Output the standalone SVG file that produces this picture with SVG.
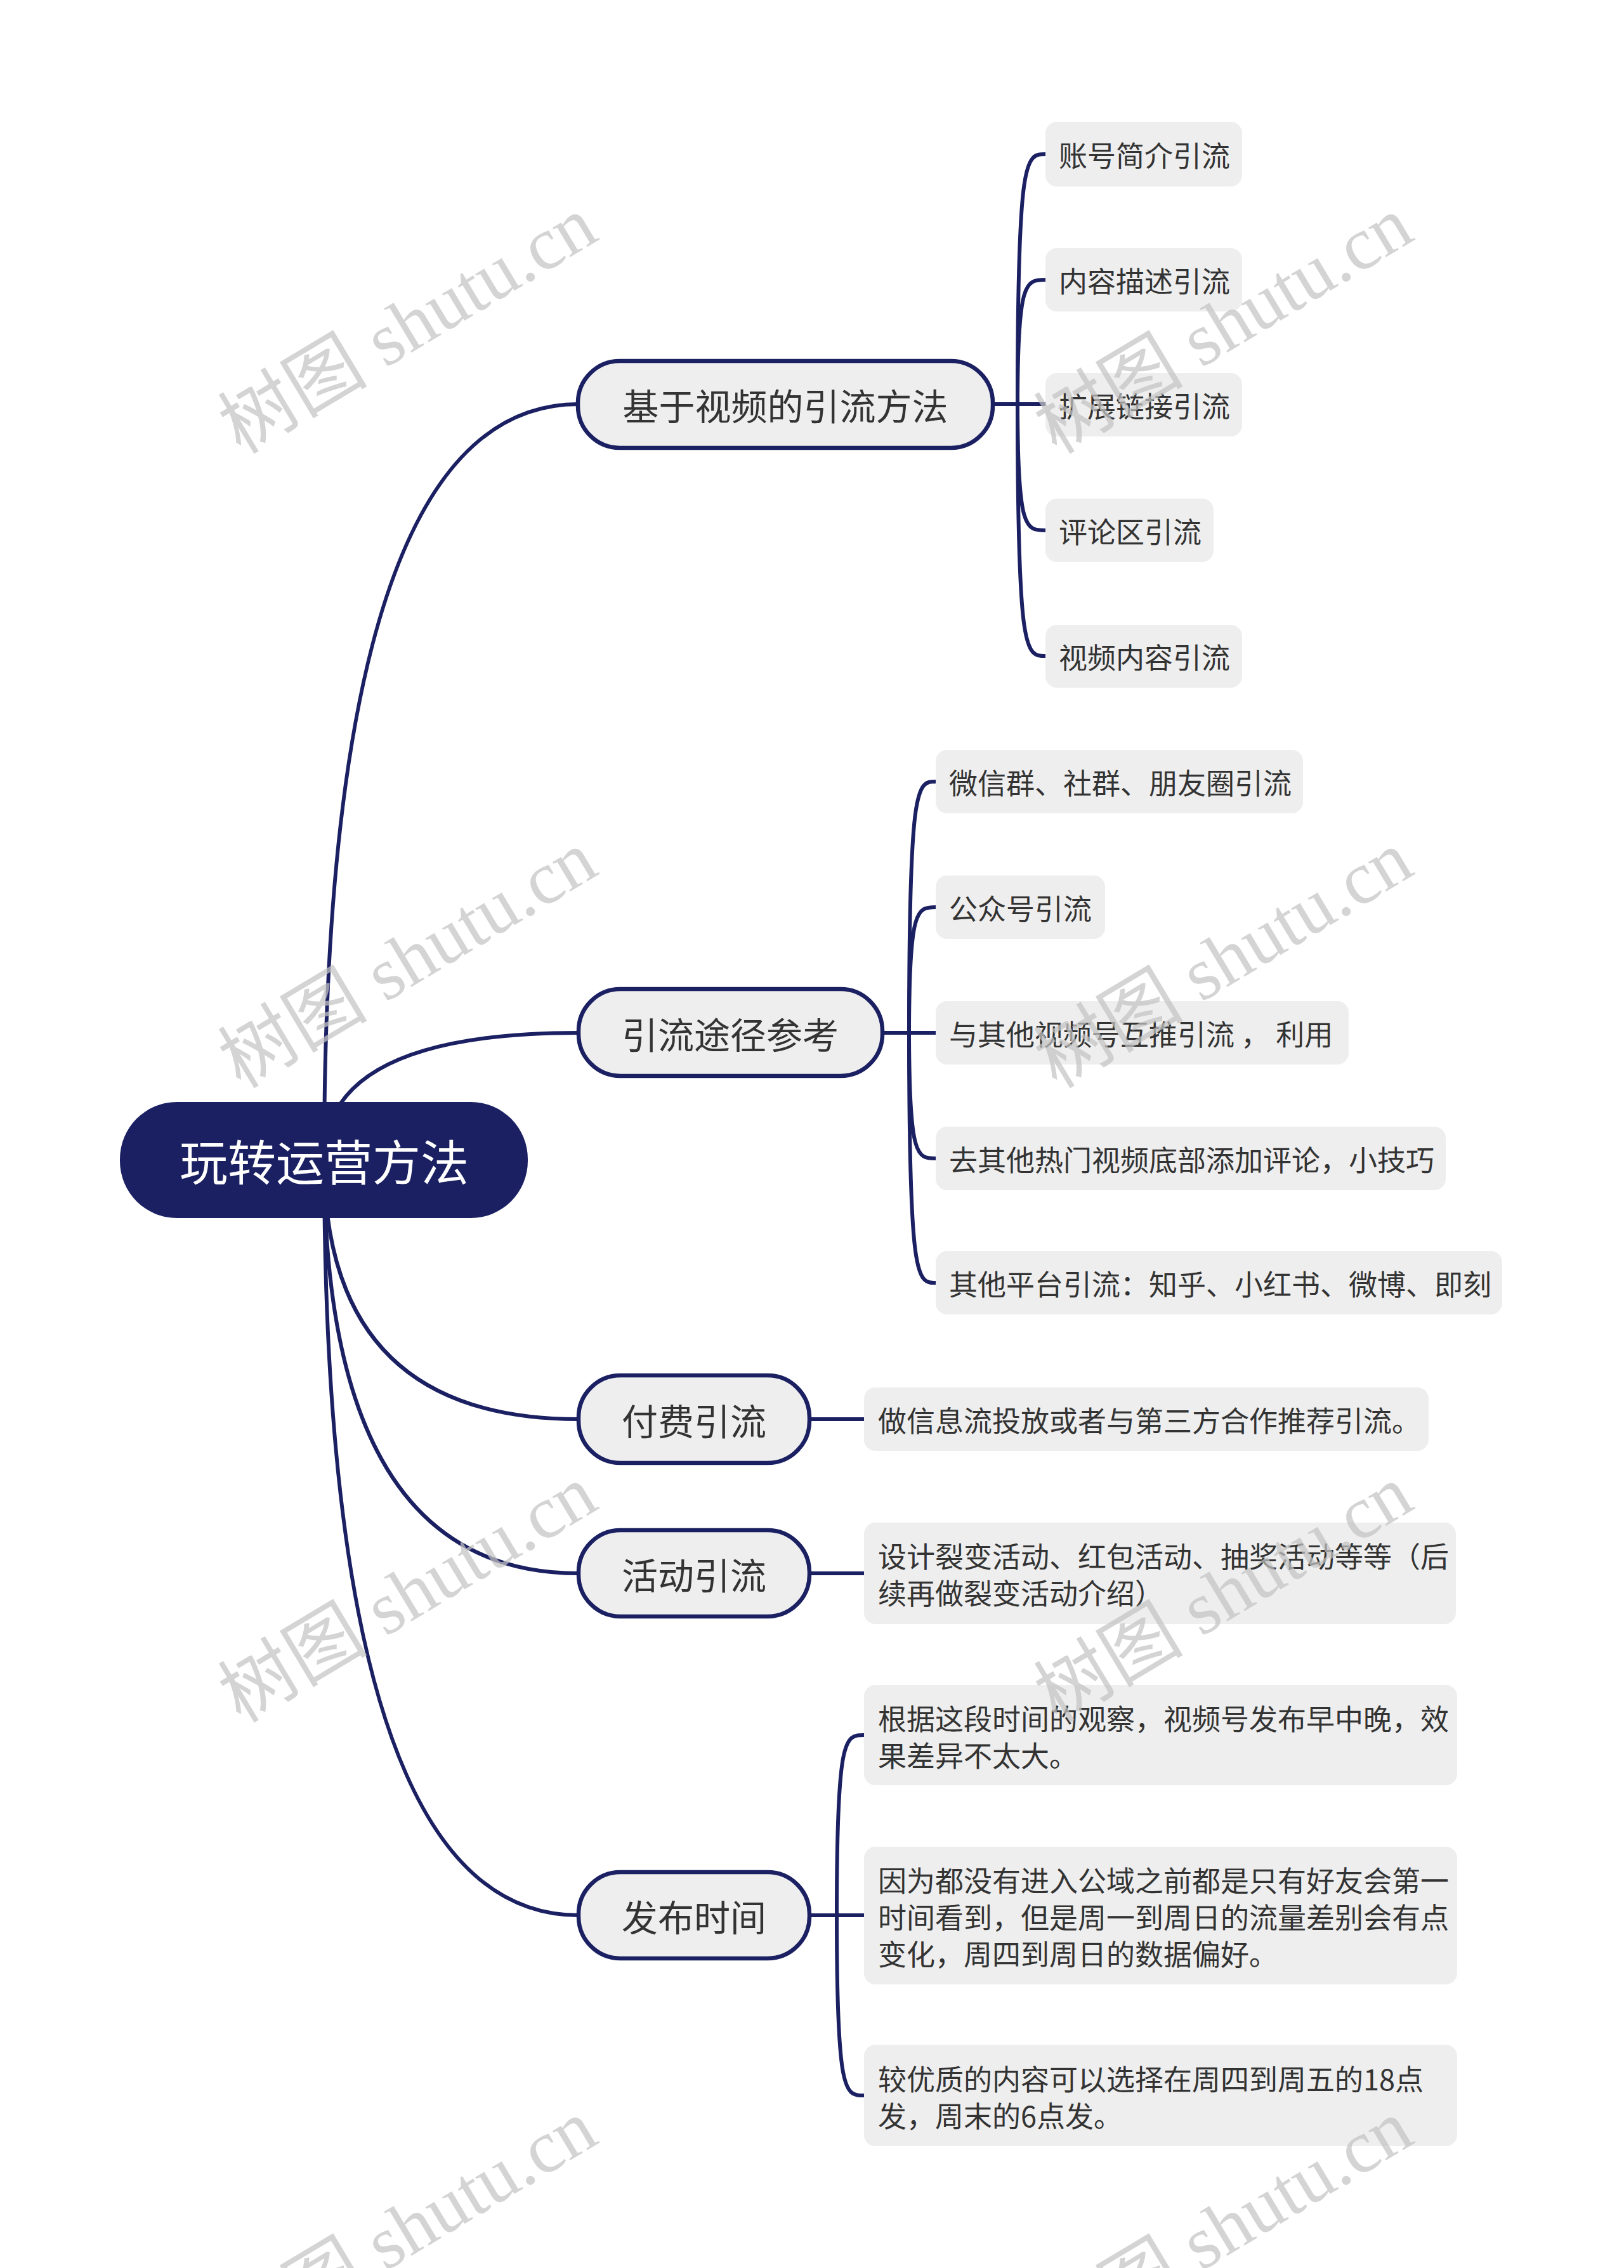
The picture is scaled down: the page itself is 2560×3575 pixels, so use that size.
<svg xmlns="http://www.w3.org/2000/svg" width="2560" height="3575" viewBox="0 0 2560 3575">
<style>
.bg{fill:#ffffff}
.conn{fill:none;stroke:#1b2062;stroke-width:6;stroke-linecap:round}
.root{fill:#1b2062}
.roott{fill:#ffffff;font-family:"Noto Sans CJK SC","Noto Sans",sans-serif;font-size:76px}
.l1{fill:#eeeeee;stroke:#1b2062;stroke-width:6.5}
.l1t{fill:#333333;font-family:"Noto Sans CJK SC","Noto Sans",sans-serif;font-size:57px}
.l2{fill:#eeeeee}
.l2t{fill:#333333;font-family:"Noto Sans CJK SC","Noto Sans",sans-serif;font-size:45px}
.wm{fill:#c4c4c4;opacity:0.72;font-family:"Liberation Serif","Noto Sans CJK SC",serif;font-size:118px}
</style>
<rect class="bg" x="0" y="0" width="2560" height="3575"/>
<g id="connectors">
  <path class="conn" d="M511,1828 Q511,637 912,637"/>
  <path class="conn" d="M511,1828 Q511,1628 912,1628"/>
  <path class="conn" d="M511,1828 Q511,2237 912,2237"/>
  <path class="conn" d="M511,1828 Q511,2480 912,2480"/>
  <path class="conn" d="M511,1828 Q511,3019 912,3019"/>
  <path class="conn" d="M1565,637 H1648"/>
  <path class="conn" d="M1604,637 C1604,243 1617,243 1648,243"/>
  <path class="conn" d="M1604,637 C1604,441 1617,441 1648,441"/>
  <path class="conn" d="M1604,637 C1604,836 1617,836 1648,836"/>
  <path class="conn" d="M1604,637 C1604,1034 1617,1034 1648,1034"/>
  <path class="conn" d="M1391,1628 H1475"/>
  <path class="conn" d="M1433,1628 C1433,1232 1446,1232 1475,1232"/>
  <path class="conn" d="M1433,1628 C1433,1430 1446,1430 1475,1430"/>
  <path class="conn" d="M1433,1628 C1433,1826 1446,1826 1475,1826"/>
  <path class="conn" d="M1433,1628 C1433,2022 1446,2022 1475,2022"/>
  <path class="conn" d="M1276,2237 H1362"/>
  <path class="conn" d="M1276,2480 H1362"/>
  <path class="conn" d="M1276,3019 H1362"/>
  <path class="conn" d="M1319,3019 C1319,2735 1332,2735 1362,2735"/>
  <path class="conn" d="M1319,3019 C1319,3303 1332,3303 1362,3303"/>
</g>
<g id="root">
  <rect class="root" x="189" y="1737" width="643" height="183" rx="90"/>
  <text class="roott" x="511" y="1828" text-anchor="middle" dominant-baseline="central">玩转运营方法</text>
</g>
<g id="n1">
  <rect class="l1" x="911" y="569" width="654" height="137" rx="66"/>
  <text class="l1t" x="1238" y="637" text-anchor="middle" dominant-baseline="central">基于视频的引流方法</text>
</g>
<g id="n1a"><rect class="l2" x="1648" y="192" width="310" height="102" rx="18"/><text class="l2t" x="1669" y="243" dominant-baseline="central">账号简介引流</text></g>
<g id="n1b"><rect class="l2" x="1648" y="391" width="310" height="100" rx="18"/><text class="l2t" x="1669" y="441" dominant-baseline="central">内容描述引流</text></g>
<g id="n1c"><rect class="l2" x="1648" y="588" width="310" height="100" rx="18"/><text class="l2t" x="1669" y="638" dominant-baseline="central">扩展链接引流</text></g>
<g id="n1d"><rect class="l2" x="1648" y="786" width="265" height="100" rx="18"/><text class="l2t" x="1669" y="836" dominant-baseline="central">评论区引流</text></g>
<g id="n1e"><rect class="l2" x="1648" y="985" width="310" height="99" rx="18"/><text class="l2t" x="1669" y="1034" dominant-baseline="central">视频内容引流</text></g>
<g id="n2">
  <rect class="l1" x="912" y="1559" width="479" height="137" rx="66"/>
  <text class="l1t" x="1151" y="1628" text-anchor="middle" dominant-baseline="central">引流途径参考</text>
</g>
<g id="n2a"><rect class="l2" x="1475" y="1182" width="579" height="100" rx="18"/><text class="l2t" x="1496" y="1232" dominant-baseline="central">微信群、社群、朋友圈引流</text></g>
<g id="n2b"><rect class="l2" x="1475" y="1380" width="267" height="100" rx="18"/><text class="l2t" x="1496" y="1430" dominant-baseline="central">公众号引流</text></g>
<g id="n2c"><rect class="l2" x="1475" y="1578" width="651" height="100" rx="18"/><text class="l2t" x="1496" y="1628" dominant-baseline="central">与其他视频号互推引流 ， 利用</text></g>
<g id="n2d"><rect class="l2" x="1475" y="1776" width="804" height="100" rx="18"/><text class="l2t" x="1496" y="1826" dominant-baseline="central">去其他热门视频底部添加评论，小技巧</text></g>
<g id="n2e"><rect class="l2" x="1475" y="1972" width="893" height="100" rx="18"/><text class="l2t" x="1496" y="2022" dominant-baseline="central">其他平台引流：知乎、小红书、微博、即刻</text></g>
<g id="n3">
  <rect class="l1" x="912" y="2168" width="364" height="138" rx="66"/>
  <text class="l1t" x="1094" y="2237" text-anchor="middle" dominant-baseline="central">付费引流</text>
</g>
<g id="n3a"><rect class="l2" x="1362" y="2187" width="890" height="100" rx="18"/><text class="l2t" x="1384" y="2237" dominant-baseline="central">做信息流投放或者与第三方合作推荐引流。</text></g>
<g id="n4">
  <rect class="l1" x="912" y="2412" width="364" height="136" rx="66"/>
  <text class="l1t" x="1094" y="2480" text-anchor="middle" dominant-baseline="central">活动引流</text>
</g>
<g id="n4a"><rect class="l2" x="1362" y="2400" width="933" height="160" rx="18"/>
  <text class="l2t" x="1384" y="2451" dominant-baseline="central">设计裂变活动、红包活动、抽奖活动等等（后</text>
  <text class="l2t" x="1384" y="2509" dominant-baseline="central">续再做裂变活动介绍）</text></g>
<g id="n5">
  <rect class="l1" x="912" y="2951" width="364" height="136" rx="66"/>
  <text class="l1t" x="1094" y="3019" text-anchor="middle" dominant-baseline="central">发布时间</text>
</g>
<g id="n5a"><rect class="l2" x="1362" y="2656" width="935" height="158" rx="18"/>
  <text class="l2t" x="1384" y="2707" dominant-baseline="central">根据这段时间的观察，视频号发布早中晚，效</text>
  <text class="l2t" x="1384" y="2765" dominant-baseline="central">果差异不太大。</text></g>
<g id="n5b"><rect class="l2" x="1362" y="2911" width="935" height="217" rx="18"/>
  <text class="l2t" x="1384" y="2962" dominant-baseline="central">因为都没有进入公域之前都是只有好友会第一</text>
  <text class="l2t" x="1384" y="3020" dominant-baseline="central">时间看到，但是周一到周日的流量差别会有点</text>
  <text class="l2t" x="1384" y="3078" dominant-baseline="central">变化，周四到周日的数据偏好。</text></g>
<g id="n5c"><rect class="l2" x="1362" y="3223" width="935" height="160" rx="18"/>
  <text class="l2t" x="1384" y="3275" dominant-baseline="central">较优质的内容可以选择在周四到周五的18点</text>
  <text class="l2t" x="1384" y="3333" dominant-baseline="central">发，周末的6点发。</text></g>
<g id="watermarks">
  <text class="wm" x="643" y="513" text-anchor="middle" dominant-baseline="central" transform="rotate(-31 643 513)">树图 shutu.cn</text>
  <text class="wm" x="1929" y="513" text-anchor="middle" dominant-baseline="central" transform="rotate(-31 1929 513)">树图 shutu.cn</text>
  <text class="wm" x="643" y="1513" text-anchor="middle" dominant-baseline="central" transform="rotate(-31 643 1513)">树图 shutu.cn</text>
  <text class="wm" x="1929" y="1513" text-anchor="middle" dominant-baseline="central" transform="rotate(-31 1929 1513)">树图 shutu.cn</text>
  <text class="wm" x="643" y="2513" text-anchor="middle" dominant-baseline="central" transform="rotate(-31 643 2513)">树图 shutu.cn</text>
  <text class="wm" x="1929" y="2513" text-anchor="middle" dominant-baseline="central" transform="rotate(-31 1929 2513)">树图 shutu.cn</text>
  <text class="wm" x="643" y="3513" text-anchor="middle" dominant-baseline="central" transform="rotate(-31 643 3513)">树图 shutu.cn</text>
  <text class="wm" x="1929" y="3513" text-anchor="middle" dominant-baseline="central" transform="rotate(-31 1929 3513)">树图 shutu.cn</text>
</g>
</svg>
